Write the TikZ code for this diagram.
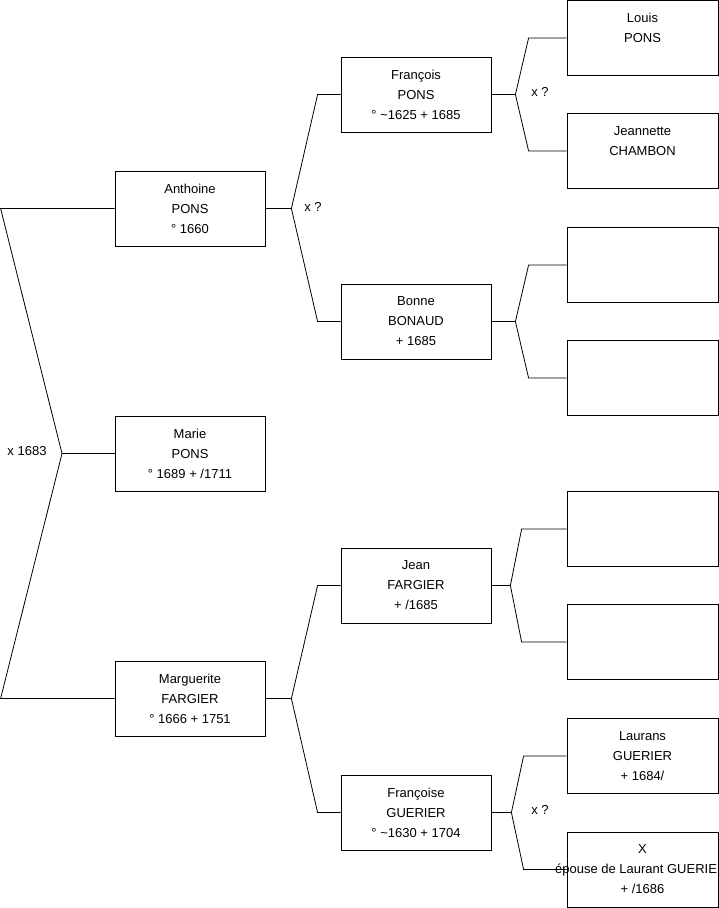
\documentclass[tikz,border=0pt]{standalone}
\usepackage{fontspec}
\setmainfont{Liberation Sans}
\usetikzlibrary{calc}

\begin{document}
\begin{tikzpicture}[x=1pt, y=-1pt,
    person/.style={draw, line width=0.8pt, minimum width=150pt, minimum height=75pt,
        inner sep=0pt, align=center, font=\fontsize{13}{20}\selectfont},
    ancestor/.style={person, minimum width=151pt},
    union/.style={font=\fontsize{13}{15}\selectfont, inner sep=0pt},
    link/.style={line width=0.8pt}]
    \def\cA{190}
    \def\cB{416}
    \def\cC{642.5}

    \useasboundingbox (0,0) rectangle (719,908);

    % child and parents
    \node[person] (anthoine)   at (\cA,208.5) {Anthoine\\PONS\\° 1660};
    \node[person] (marie)      at (\cA,453.5) {Marie\\PONS\\° 1689 + /1711};
    \node[person] (marguerite) at (\cA,698.5) {Marguerite\\FARGIER\\° 1666 + 1751};

    % grandparents
    \node[person] (francois)  at (\cB,94.5)  {François\\PONS\\° \textasciitilde1625 + 1685};
    \node[person] (bonne)     at (\cB,321.5) {Bonne\\BONAUD\\+ 1685};
    \node[person] (jean)      at (\cB,585.5) {Jean\\FARGIER\\+ /1685};
    \node[person] (francoise) at (\cB,812.5) {Françoise\\GUERIER\\° \textasciitilde1630 + 1704};

    % great-grandparents
    \node[ancestor] (louis)     at (\cC,38)  {Louis\\PONS\\};
    \node[ancestor] (jeannette) at (\cC,151) {Jeannette\\CHAMBON\\};
    \node[ancestor] (bonnef)    at (\cC,265) {};
    \node[ancestor] (bonnem)    at (\cC,378) {};
    \node[ancestor] (jeanf)     at (\cC,529) {};
    \node[ancestor] (jeanm)     at (\cC,642) {};
    \node[ancestor] (laurans)   at (\cC,756) {Laurans\\GUERIER\\+ 1684/};
    \node[ancestor] (xguerier)  at (\cC,869.5)
        {X\\\makebox[149pt][r]{épouse de Laurant GUERIE}\\+ /1686};

    % marriage labels
    \node[union] (m0) at (27,451)  {x 1683};
    \node[union] (m1) at (313,207) {x ?};
    \node[union] (m2) at (540,92)  {x ?};
    \node[union] (m3) at (540,810) {x ?};

    % Marie's parents
    \coordinate (xm) at (62,453.5);
    \draw[link] (marie.west) -- (xm);
    \draw[link] (anthoine.west) -- ++(-114,0) -- (xm) -- ($(marguerite.west)+(-114,0)$) -- (marguerite.west);

    % Anthoine's parents
    \draw[link] (anthoine.east) -- ++(26,0) coordinate (xa)
        -- ($(francois.west)+(-23,0)$) -- (francois.west);
    \draw[link] (xa) -- ($(bonne.west)+(-23,0)$) -- (bonne.west);

    % Marguerite's parents
    \draw[link] (marguerite.east) -- ++(26,0) coordinate (xg)
        -- ($(jean.west)+(-23,0)$) -- (jean.west);
    \draw[link] (xg) -- ($(francoise.west)+(-23,0)$) -- (francoise.west);

    % Francois's parents
    \draw[link] (francois.east) -- ++(24,0) coordinate (xf)
        -- ($(louis.west)+(-38,0)$) -- (louis.west);
    \draw[link] (xf) -- ($(jeannette.west)+(-38,0)$) -- (jeannette.west);

    % Bonne's parents
    \draw[link] (bonne.east) -- ++(24,0) coordinate (xb)
        -- ($(bonnef.west)+(-38,0)$) -- (bonnef.west);
    \draw[link] (xb) -- ($(bonnem.west)+(-38,0)$) -- (bonnem.west);

    % Jean's parents
    \draw[link] (jean.east) -- ++(19,0) coordinate (xj)
        -- ($(jeanf.west)+(-45,0)$) -- (jeanf.west);
    \draw[link] (xj) -- ($(jeanm.west)+(-45,0)$) -- (jeanm.west);

    % Francoise's parents
    \draw[link] (francoise.east) -- ++(20,0) coordinate (xs)
        -- ($(laurans.west)+(-43,0)$) -- (laurans.west);
    \draw[link] (xs) -- ($(xguerier.west)+(-43,0)$) -- (xguerier.west);
\end{tikzpicture}
\end{document}
